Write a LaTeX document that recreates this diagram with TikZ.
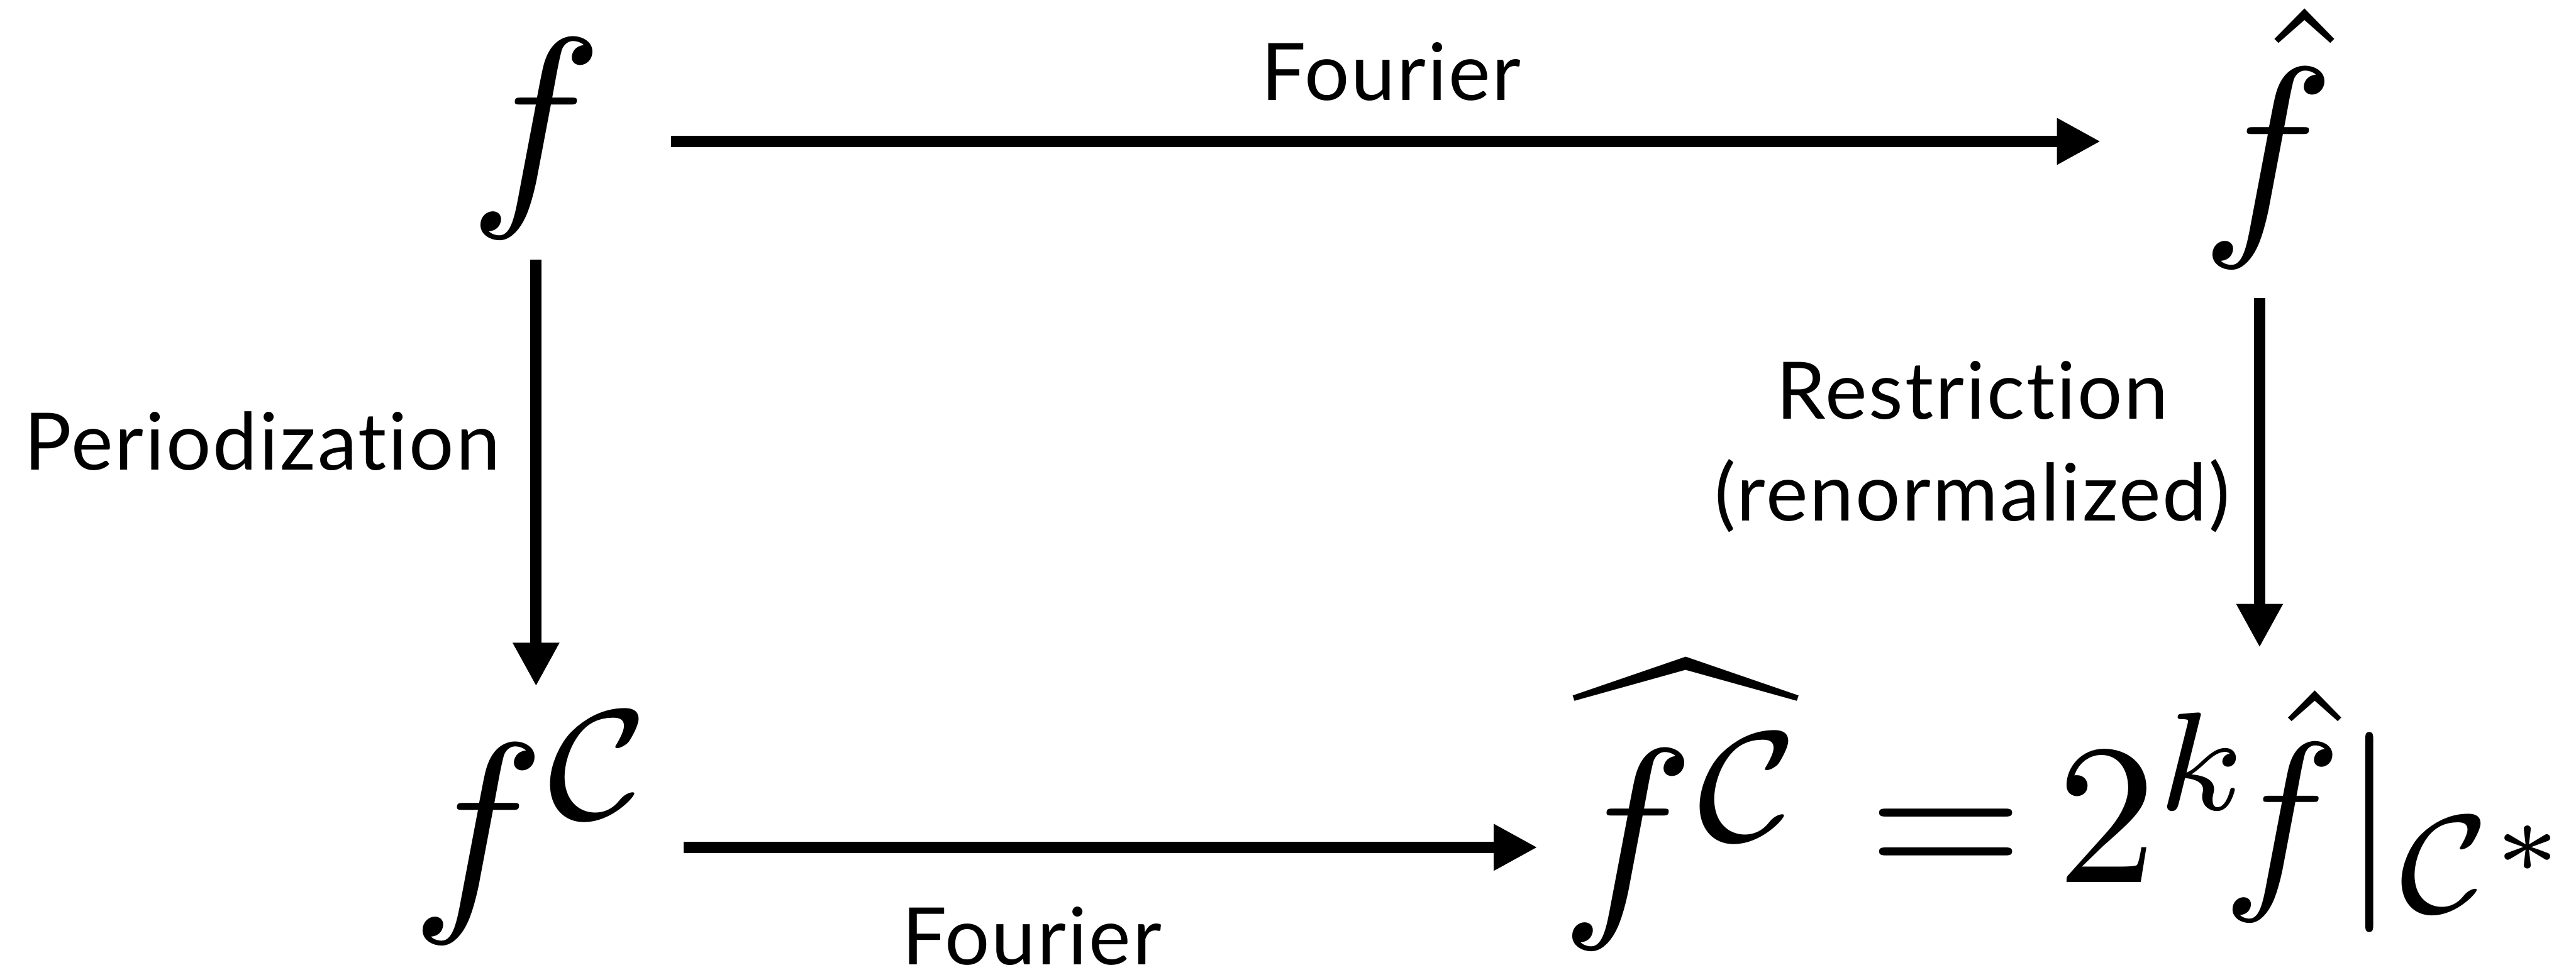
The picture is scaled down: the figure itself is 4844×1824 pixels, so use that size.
\documentclass[tikz,border=0pt]{standalone}
\usepackage[no-math]{fontspec}
\newfontfamily\labelfont[Ligatures=NoCommon,LetterSpace=2.2]{Lato}
\usetikzlibrary{arrows.meta,calc}

\tikzset{
  mathbig/.style={inner sep=0pt, font=\fontsize{10}{12}\selectfont, scale=12, transform shape},
  mathmid/.style={inner sep=0pt, font=\fontsize{10}{12}\selectfont, scale=10.7, transform shape},
  lab/.style={inner sep=0pt, font=\labelfont\fontsize{42.4}{54.6}\selectfont},
  arr/.style={line width=0.21cm, -{Triangle[length=0.82cm,width=0.82cm]}}
}

\begin{document}
\begin{tikzpicture}[x=0.01cm,y=-0.01cm]
\useasboundingbox (0,0) rectangle (4844,1824);

% the four corners of the square
\node[mathbig] (fTL) at (1008,261) {$f$};
\node[mathbig] (fH) at (4264,260) {$\hat f$};
\node[mathbig] (fC) at (1008,1557) {$f^{\mathcal{C}}$};
\node[mathbig] (lhs) at (3170,1515) {$\widehat{f^{\mathcal{C}}}$};
\node[mathmid, anchor=base west] (rhs) at (3505,1660)
  {$= \mkern-2mu 2^{k}\mkern-3mu\hat f|_{\mathcal{C}^*}$};

% arrow labels
\node[lab, anchor=base] (lt) at (2616,189) {Fourier};
\node[lab, anchor=base] (lb) at (1940,1815) {Fourier};
\node[lab, anchor=base] (lp) at (493,884) {Periodization};
\node[lab, anchor=base] (lr1) at (3709,788) {Restriction};
\node[lab, anchor=base] (lr2) at (3709,980) {(renormalized)};

% arrows
\draw[arr] ($(fTL.center)+(254,5)$) -- ($(fH.center)+(-314,6)$);
\draw[arr] ($(fTL.center)+(0,227)$) -- ($(fC.center)+(0,-266)$);
\draw[arr] ($(fH.center)+(-15,301)$) -- ($(rhs.base west)+(744,-442)$);
\draw[arr] ($(fC.center)+(277,37)$) -- ($(lhs.center)+(-279,79)$);
\end{tikzpicture}
\end{document}
